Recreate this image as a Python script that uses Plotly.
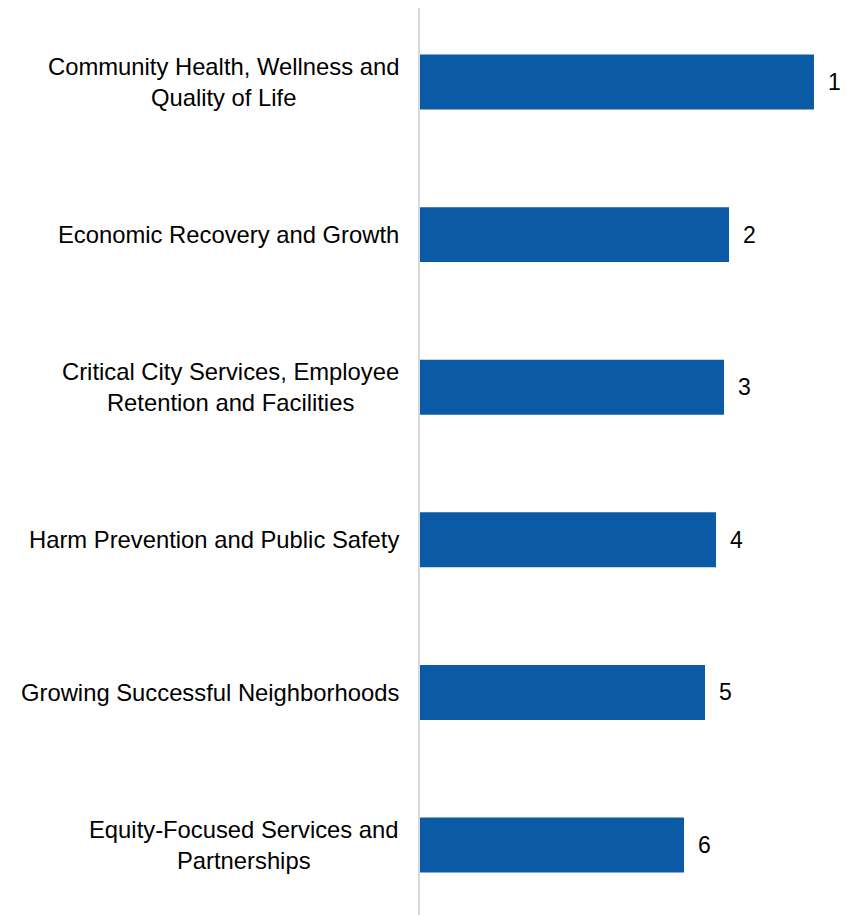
import plotly.graph_objects as go

categories = [
    "Community Health, Wellness and<br>Quality of Life",
    "Economic Recovery and Growth",
    "Critical City Services, Employee<br>Retention and Facilities",
    "Harm Prevention and Public Safety",
    "Growing Successful Neighborhoods",
    "Equity-Focused Services and<br>Partnerships",
]
scores = [3.94, 3.09, 3.04, 2.96, 2.85, 2.64]
ranks = ["1", "2", "3", "4", "5", "6"]

FONT = "Arial, Liberation Sans, sans-serif"
BAR = "#0B5AA6"

fig = go.Figure()
fig.add_trace(go.Bar(
    y=categories, x=scores, orientation="h",
    marker=dict(color=BAR, line=dict(width=0)),
    width=0.36, hoverinfo="skip",
))

for c, v, r in zip(categories, scores, ranks):
    fig.add_annotation(x=v, y=c, xref="x", yref="y", text=r, showarrow=False,
                       xanchor="left", xshift=12, font=dict(family=FONT, size=23, color="#000"))
    fig.add_annotation(x=0, y=c, xref="paper", yref="y", text=c, showarrow=False,
                       xanchor="right", xshift=-19, align="center",
                       font=dict(family=FONT, size=23.8, color="#000"))

fig.update_layout(
    width=854, height=915,
    margin=dict(l=412, r=0, t=0, b=0),
    paper_bgcolor="white", plot_bgcolor="white",
    showlegend=False,
    xaxis=dict(range=[0, 4.42], visible=False, fixedrange=True),
    yaxis=dict(categoryorder="array", categoryarray=categories,
               range=[5.511, -0.485], showticklabels=False, ticks="",
               showgrid=False, zeroline=False,
               showline=True, linecolor="#d9d9d9", linewidth=2),
)

fig.write_html("out.html")
